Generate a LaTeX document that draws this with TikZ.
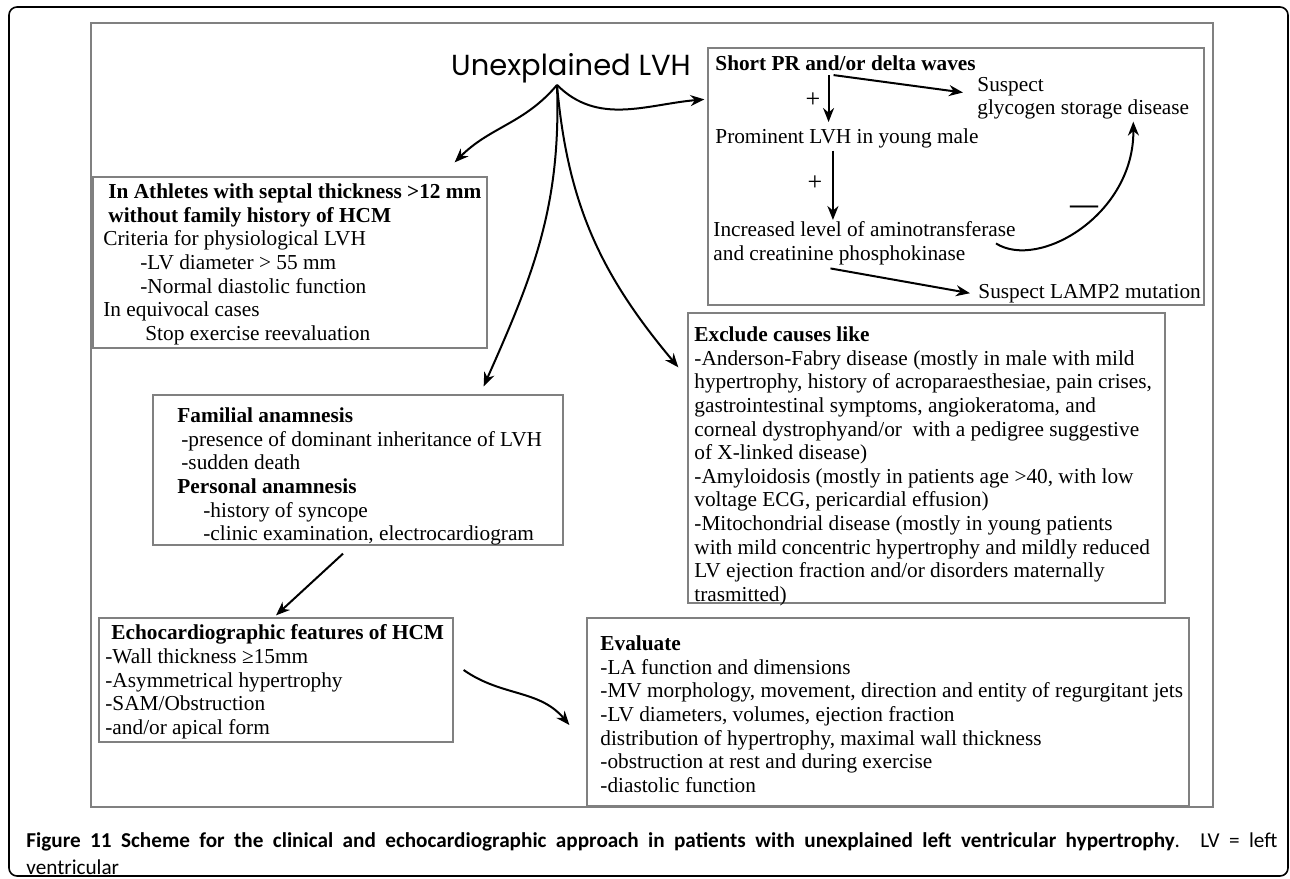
\documentclass[tikz,border=0pt]{standalone}
\usepackage{fontspec}
\setmainfont{Liberation Serif}
\newfontfamily\lvhfont{Poppins}
\newfontfamily\capfont{Carlito}
\usetikzlibrary{arrows.meta, positioning, fit}

\begin{document}
\begin{tikzpicture}[
  x=0.5pt, y=-0.5pt,
  frame/.style={rectangle, draw=black!50, line width=0.65pt, inner sep=0pt},
  boxtext/.style={anchor=north west, inner sep=0pt, align=left, font=\fontsize{10.65}{11.8}\selectfont},
  sign/.style={inner sep=0pt, font=\fontsize{13}{13}\selectfont},
  arrow/.style={-{Stealth[length=7pt, width=5.5pt]}, line width=1pt}
]
  \useasboundingbox (0,0) rectangle (1290,878);
  \draw[line width=0.8pt, rounded corners=4pt] (9,7) rectangle (1288,876);
  \draw[black!50, line width=0.65pt] (91,23) rectangle (1213,807);

  % Boxes
  \node[frame, fit={(708,48) (1204,305)}] (prbox) {};
  \node[frame, fit={(93,177) (487,348)}] (athletes) {};
  \node[frame, fit={(153,395) (563,545)}] (familial) {};
  \node[frame, fit={(688,313) (1165,603)}] (exclude) {};
  \node[frame, fit={(99,618) (453,742)}] (echo) {};
  \node[frame, fit={(587,618) (1189,806)}] (evaluate) {};

  % Start
  \node[inner sep=0pt, anchor=base, font=\lvhfont\fontsize{14.5}{16}\selectfont] (title) at (571,75) {Unexplained LVH};
  \coordinate (root) at ([xshift=-7pt, yshift=-1pt]title.south);

  % Short PR box
  \node[boxtext] (prhead) at (715,55.3) {\textbf{Short PR and/or delta waves}};
  \node[boxtext] (suspect) at (977,76.5) {Suspect\\glycogen storage disease};
  \node[boxtext] (prominent) at (715,128.5) {Prominent LVH in young male};
  \node[boxtext] (increased) at (713,221.5) {Increased level of aminotransferase\\and creatinine phosphokinase};
  \node[boxtext] (lamp) at (978,283.5) {Suspect LAMP2 mutation};
  \node[sign] (plusa) at (813,100) {+};
  \node[sign] (plusb) at (815,183) {+};
  \node[sign, font=\bfseries\fontsize{14}{14}\selectfont] (minus) at (1084,210) {—};

  \draw[arrow] ([xshift=-6pt, yshift=-2pt]prhead.south) -- ([xshift=-7pt, yshift=-8pt]suspect.north west);
  \draw[arrow, shorten >=5.25pt] ([xshift=-8.5pt, yshift=-2pt]prhead.south) -- ([xshift=-8.5pt, yshift=-2pt]prhead.south |- prominent.north);
  \draw[arrow, shorten >=1.75pt] ([xshift=-7pt, yshift=-1pt]prominent.south) -- ([xshift=-7pt, yshift=-1pt]prominent.south |- increased.north);
  \draw[arrow] ([xshift=-10pt]increased.east) .. controls +(43,27) and +(1,93) .. ([xshift=25pt, yshift=-1pt]suspect.south);
  \draw[arrow] ([xshift=-17pt, yshift=-1.5pt]increased.south) -- ([xshift=-4pt]lamp.west);

  % Other boxes
  \node[boxtext] (athtext) at (103,183.5) {%
    \hspace*{2.5pt}\textbf{In Athletes with septal thickness >12 mm}\\
    \hspace*{2.5pt}\textbf{without family history of HCM}\\
    Criteria for physiological LVH\\
    \hspace*{18.5pt}-LV diameter > 55 mm\\
    \hspace*{18.5pt}-Normal diastolic function\\
    In equivocal cases\\
    \hspace*{21pt}Stop exercise reevaluation};
  \node[boxtext] (famtext) at (177,407.5) {%
    \textbf{Familial anamnesis}\\
    \hspace*{2pt}-presence of dominant inheritance of LVH\\
    \hspace*{2pt}-sudden death\\
    \textbf{Personal anamnesis}\\
    \hspace*{13pt}-history of syncope\\
    \hspace*{13pt}-clinic examination, electrocardiogram};
  \node[boxtext] (exctext) at (694,326.5) {%
    \textbf{Exclude causes like}\\
    -Anderson-Fabry disease (mostly in male with mild\\
    hypertrophy, history of acroparaesthesiae, pain crises,\\
    gastrointestinal symptoms, angiokeratoma, and\\
    corneal dystrophyand/or\ \ with a pedigree suggestive\\
    of X-linked disease)\\
    -Amyloidosis (mostly in patients age >40, with low\\
    voltage ECG, pericardial effusion)\\
    -Mitochondrial disease (mostly in young patients\\
    with mild concentric hypertrophy and mildly reduced\\
    LV ejection fraction and/or disorders maternally\\
    trasmitted)};
  \node[boxtext] (echotext) at (105,624.5) {%
    \hspace*{3pt}\textbf{Echocardiographic features of HCM}\\
    -Wall thickness ≥15mm\\
    -Asymmetrical hypertrophy\\
    -SAM/Obstruction\\
    -and/or apical form};
  \node[boxtext] (evaltext) at (600,635.5) {%
    \textbf{Evaluate}\\
    -LA function and dimensions\\
    -MV morphology, movement, direction and entity of regurgitant jets\\
    -LV diameters, volumes, ejection fraction\\
    distribution of hypertrophy, maximal wall thickness\\
    -obstruction at rest and during exercise\\
    -diastolic function};

  % Main arrows
  \draw[arrow] (root) to[out=-130, in=45] ([xshift=-16.5pt, yshift=7pt]athletes.north east);
  \draw[arrow] (root) to[out=-45, in=185] ([xshift=-1.5pt, yshift=-26pt]prbox.north west);
  \draw[arrow] (root) to[out=-88, in=66] ([xshift=-40pt, yshift=4pt]familial.north east);
  \draw[arrow] (root) to[out=-85, in=130] ([xshift=-4.5pt, yshift=-27.5pt]exclude.north west);
  \draw[arrow] ([xshift=-7.5pt, yshift=-4pt]familial.south) -- ([yshift=1pt]echo.north);
  \draw[arrow] ([xshift=5pt, yshift=5pt]echo.east) to[out=-35, in=130] ([xshift=-8.5pt, yshift=-6.5pt]evaluate.west);

  % Caption
  \node[anchor=north west, inner sep=0pt, text width=625.5pt, align=justify, font=\capfont\fontsize{10.6}{13.5}\selectfont] (caption) at (26,832) {%
    {\bfseries Figure 11 Scheme for the clinical and echocardiographic approach in patients with unexplained left ventricular hypertrophy}. LV = left\linebreak ventricular};
\end{tikzpicture}
\end{document}
